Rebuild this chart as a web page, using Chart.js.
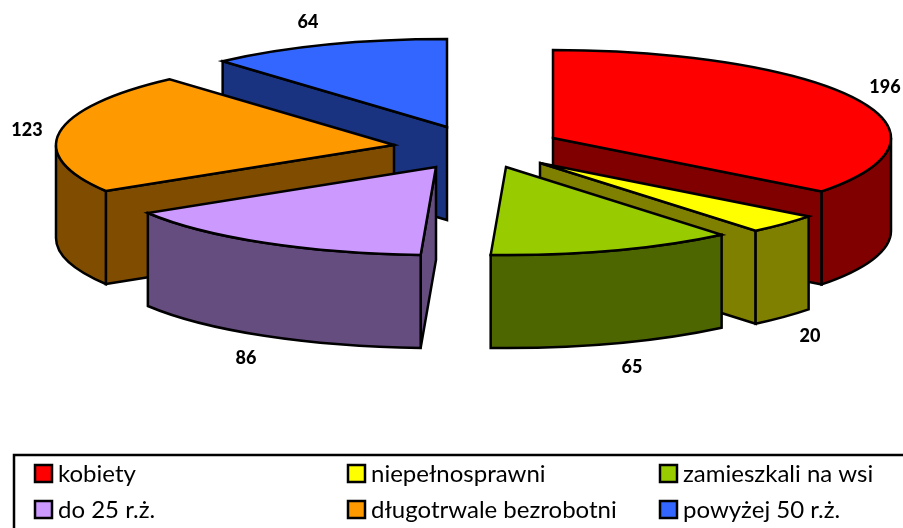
<!DOCTYPE html>
<html lang="pl">
<head>
<meta charset="utf-8">
<title>Wykres</title>
<style>
  html, body { margin: 0; padding: 0; background: #fff; overflow: hidden; }
  canvas { display: block; }
</style>
<script src="https://cdn.jsdelivr.net/npm/chart.js@4/dist/chart.umd.min.js"></script>
</head>
<body>
<canvas id="wykres" width="903" height="528"></canvas>
<script>
const categories = ["kobiety", "niepełnosprawni", "zamieszkali na wsi", "do 25 r.ż.", "długotrwale bezrobotni", "powyżej 50 r.ż."];
const values = [196, 20, 65, 86, 123, 64];
const topColors = ["#ff0000", "#ffff00", "#99cc00", "#cc99ff", "#ff9900", "#3366ff"];
const sideColors = ["#800000", "#808000", "#4d6600", "#664d80", "#804d00", "#1a3380"];

// wyglad "3D": srodki wycinkow po rozsunieciu, elipsa i grubosc
const centers = [[553, 138], [540, 163], [506, 167], [436, 167], [394, 145], [447, 127]];
const drawOrder = [5, 4, 3, 0, 1, 2];
const RX = 338, RY = 88, DEPTH = 93;
const labelPos = [[885, 87], [810, 336], [632, 367], [246, 358], [27, 130], [308, 22]];
const legendCols = [35, 348, 660];
const legendRows = [473, 509];

function drawSide(ctx, color, path) {
  ctx.beginPath();
  path();
  ctx.closePath();
  ctx.fillStyle = color;
  ctx.fill();
  ctx.stroke();
}

const pie3d = {
  id: "pie3d",
  beforeDatasetsDraw(chart) {
    const ctx = chart.ctx;
    const arcs = chart.getDatasetMeta(0).data;
    ctx.save();
    ctx.lineWidth = 2.5;
    ctx.strokeStyle = "#000";
    ctx.lineJoin = "miter";
    drawOrder.forEach(i => {
      const arc = arcs[i];
      const [cx, cy] = centers[i];
      const a = arc.startAngle, b = arc.endAngle;
      const cutWall = t => drawSide(ctx, sideColors[i], () => {
        const x = cx + RX * Math.cos(t), y = cy + RY * Math.sin(t);
        ctx.moveTo(cx, cy);
        ctx.lineTo(x, y);
        ctx.lineTo(x, y + DEPTH);
        ctx.lineTo(cx, cy + DEPTH);
      });

      // sciany przekroju widoczne od przodu
      if (b < Math.PI / 2) cutWall(b);
      if (a > Math.PI / 2) cutWall(a);

      // zewnetrzna sciana, tylko dolna polowa elipsy
      const from = Math.max(a, 0), to = Math.min(b, Math.PI);
      if (to > from) {
        drawSide(ctx, sideColors[i], () => {
          ctx.ellipse(cx, cy, RX, RY, 0, from, to);
          ctx.ellipse(cx, cy + DEPTH, RX, RY, 0, to, from, true);
        });
      }

      // wierzch: sam luk z Chart.js, sciskany do elipsy
      ctx.save();
      ctx.translate(cx, cy);
      ctx.scale(RX / arc.outerRadius, RY / arc.outerRadius);
      ctx.translate(-arc.x, -arc.y);
      arc.draw(ctx);
      ctx.restore();

      ctx.beginPath();
      ctx.moveTo(cx, cy);
      ctx.ellipse(cx, cy, RX, RY, 0, a, b);
      ctx.closePath();
      ctx.stroke();
    });
    ctx.restore();
    return false;
  },
  afterDraw(chart) {
    const ctx = chart.ctx;
    ctx.save();

    // etykiety wartosci
    ctx.fillStyle = "#000";
    ctx.font = "900 18px Lato";
    ctx.textAlign = "center";
    ctx.textBaseline = "middle";
    values.forEach((v, i) => ctx.fillText(String(v), labelPos[i][0], labelPos[i][1]));

    // legenda
    ctx.strokeStyle = "#000";
    ctx.lineWidth = 2.5;
    ctx.strokeRect(14, 455, 950, 120);
    ctx.font = "24px Lato";
    ctx.textAlign = "left";
    categories.forEach((name, i) => {
      const x = legendCols[i % 3];
      const y = legendRows[Math.floor(i / 3)];
      ctx.fillStyle = topColors[i];
      ctx.fillRect(x, y - 8, 17, 17);
      ctx.strokeRect(x, y - 8, 17, 17);
      ctx.fillStyle = "#000";
      ctx.fillText(name, x + 23, y + 1);
    });
    ctx.restore();
  }
};

new Chart(document.getElementById("wykres"), {
  type: "pie",
  data: {
    labels: categories,
    datasets: [{ data: values, backgroundColor: topColors, borderWidth: 0 }]
  },
  options: {
    responsive: false,
    animation: false,
    plugins: { legend: { display: false }, tooltip: { enabled: false } }
  },
  plugins: [pie3d]
});
</script>
</body>
</html>
